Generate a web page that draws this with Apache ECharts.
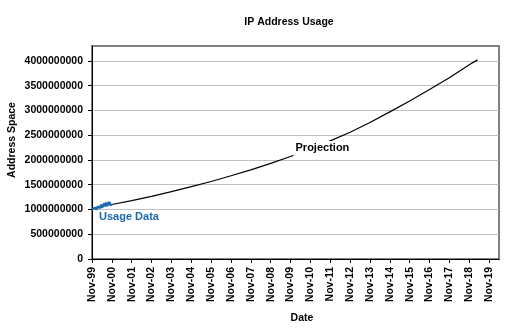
<!DOCTYPE html>
<html><head><meta charset="utf-8">
<script src="https://cdn.jsdelivr.net/npm/echarts@6/dist/echarts.min.js"></script>
<style>html,body{margin:0;padding:0;background:#fff}#c{width:521px;height:335px}</style>
</head><body><div id="c"></div>
<script>
// months counted from Nov-1999
const tickMonths = [0,12,24,36,48,60,72,84,96,108,120,132,144,156,168,180,192,204,216,228,240];
const tickLabels = ['Nov-99','Nov-00','Nov-01','Nov-02','Nov-03','Nov-04','Nov-05','Nov-06','Nov-07','Nov-08','Nov-09','Nov-10','Nov-11','Nov-12','Nov-13','Nov-14','Nov-15','Nov-16','Nov-17','Nov-18','Nov-19'];
const yTicks = [0,500000000,1000000000,1500000000,2000000000,2500000000,3000000000,3500000000,4000000000];

const usageMonths = [0,0.5,1,1.5,2,2.5,3,3.5,4,4.5,5,5.5,6,6.5,7,7.5,8,8.5,9,9.5,10,10.5,11,11.5,12];
const usageValues = [1.00e9,1.01e9,0.99e9,1.03e9,1.00e9,1.04e9,1.01e9,1.06e9,1.02e9,1.08e9,1.03e9,1.10e9,1.04e9,1.07e9,1.05e9,1.12e9,1.06e9,1.14e9,1.07e9,1.10e9,1.08e9,1.15e9,1.09e9,1.12e9,1.10e9];

const projMonths = [12,24,36,48,60,72,84,96,108,120,132,144,156,168,180,192,204,216,228,233];
const projValues = [1.10e9,1.18e9,1.265e9,1.36e9,1.46e9,1.565e9,1.68e9,1.80e9,1.93e9,2.07e9,2.22e9,2.385e9,2.56e9,2.755e9,2.97e9,3.19e9,3.42e9,3.66e9,3.92e9,4.02e9];

const FONT = '"Liberation Sans",Arial,sans-serif';
const FS = 10.5;
const chart = echarts.init(document.getElementById('c'), null, {renderer:'canvas'});
const lab = (v) => { const i = tickMonths.indexOf(v); return i >= 0 ? tickLabels[i] : ''; };

chart.setOption({
  animation: false,
  backgroundColor: '#fff',
  grid: {left: 92, right: 22, top: 46, bottom: 76, show: true, borderColor: '#808080', borderWidth: 2, backgroundColor: '#fff'},
  xAxis: {
    type: 'value', min: 0, max: 246, interval: 12,
    axisLine: {lineStyle: {color: '#000', width: 1}},
    axisTick: {show: true, length: 4, lineStyle: {color: '#000'}, customValues: tickMonths},
    axisLabel: {customValues: tickMonths, formatter: lab, rotate: 90, color: '#000', fontFamily: FONT, fontWeight: 'bold', fontSize: FS, margin: 8},
    splitLine: {show: false}
  },
  yAxis: {
    type: 'value', min: 0, max: 4300000000, interval: 500000000,
    axisLine: {show: true, lineStyle: {color: '#000', width: 1}},
    axisTick: {show: true, length: 4, lineStyle: {color: '#000'}, customValues: yTicks},
    axisLabel: {customValues: yTicks, formatter: (v) => String(Math.round(v)), color: '#000', fontFamily: FONT, fontWeight: 'bold', fontSize: FS, margin: 9},
    splitLine: {show: true, lineStyle: {color: '#c0c0c0', width: 1}}
  },
  series: [
    {name: 'Projection', type: 'line', data: projMonths.map((m,i)=>[m, projValues[i]]), showSymbol: false, symbol: 'none',
     lineStyle: {color: '#000', width: 1.2}, z: 3},
    {name: 'Usage Data', type: 'line', data: usageMonths.map((m,i)=>[m, usageValues[i]]), showSymbol: false, symbol: 'none',
     lineStyle: {color: '#1a6aad', width: 2.5}, z: 4}
  ]
});

const pU = chart.convertToPixel({gridIndex: 0}, [usageMonths[0], usageValues[0]]);
const pP = chart.convertToPixel({gridIndex: 0}, [projMonths[9], projValues[9]]);
chart.setOption({
  graphic: [
    {type: 'text', x: 289, y: 22, style: {text: 'IP Address Usage', font: 'bold ' + FS + 'px ' + FONT, fill: '#000', align: 'center', verticalAlign: 'middle'}},
    {type: 'text', x: 12, y: 140, rotation: Math.PI/2, style: {text: 'Address Space', font: 'bold ' + FS + 'px ' + FONT, fill: '#000', align: 'center', verticalAlign: 'middle'}},
    {type: 'text', x: 302, y: 318, style: {text: 'Date', font: 'bold ' + FS + 'px ' + FONT, fill: '#000', align: 'center', verticalAlign: 'middle'}},
    {type: 'text', x: pU[0] + 7, y: pU[1] + 8, z: 10, style: {text: 'Usage Data', font: 'bold 11px ' + FONT, fill: '#1a6aad', align: 'left', verticalAlign: 'middle'}},
    {type: 'text', x: pP[0] + 3, y: pP[1] - 8, z: 10, style: {text: 'Projection', font: 'bold 11px ' + FONT, fill: '#000', align: 'left', verticalAlign: 'middle', backgroundColor: '#fff', padding: [2,2,2,2]}}
  ]
});
</script></body></html>
